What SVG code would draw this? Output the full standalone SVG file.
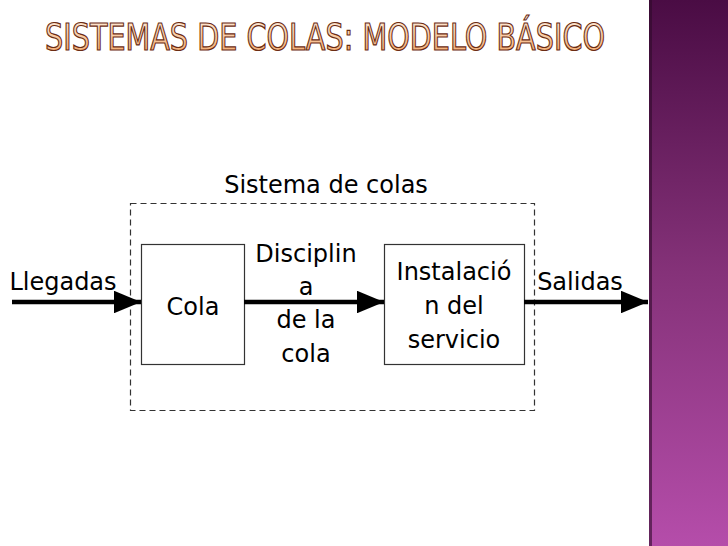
<svg xmlns="http://www.w3.org/2000/svg" width="728" height="546" viewBox="0 0 728 546">
<defs>
<linearGradient id="band" x1="0" y1="0" x2="0" y2="1">
<stop offset="0" stop-color="#4a0c44"/>
<stop offset="0.5" stop-color="#853279"/>
<stop offset="1" stop-color="#b54daa"/>
</linearGradient>
<linearGradient id="title" x1="0" y1="0" x2="0" y2="1">
<stop offset="0" stop-color="#fff3e6"/>
<stop offset="1" stop-color="#f2a05e"/>
</linearGradient>
<marker id="ah" markerWidth="6" markerHeight="5" refX="6" refY="2.5" orient="auto" markerUnits="strokeWidth">
<path d="M0,0 L6,2.5 L0,5 Z" fill="#000"/>
</marker>
</defs>
<style>
.t{font-family:"DejaVu Sans","Liberation Sans",sans-serif;font-size:24px;fill:#000;text-anchor:middle}
.box{fill:#fff;stroke:#333;stroke-width:1.2}
.arr{stroke:#000;stroke-width:4.5;fill:none;marker-end:url(#ah)}
</style>
<rect x="0" y="0" width="728" height="546" fill="#fff"/>
<rect x="649" y="0" width="79" height="546" fill="url(#band)"/>
<rect x="649" y="0" width="3" height="546" fill="#2e0a2a" opacity="0.6"/>
<text x="325" y="50" font-family="DejaVu Sans Condensed, DejaVu Sans, sans-serif" font-stretch="condensed" font-size="38" textLength="560" lengthAdjust="spacingAndGlyphs" text-anchor="middle" fill="url(#title)" stroke="#6b2c12" stroke-width="1.2">SISTEMAS DE COLAS: MODELO BÁSICO</text>
<g id="sistema">
<rect x="130.5" y="203.5" width="404" height="207" fill="none" stroke="#333" stroke-width="1.2" stroke-dasharray="6,4"/>
<text class="t" x="326" y="193">Sistema de colas</text>
</g>
<g id="cola">
<rect class="box" x="141.5" y="244.5" width="103" height="120"/>
<text class="t" x="193" y="315">Cola</text>
</g>
<g id="instalacion">
<rect class="box" x="384.5" y="244.5" width="140" height="120"/>
<text class="t" x="454" y="280">Instalació</text>
<text class="t" x="454" y="314">n del</text>
<text class="t" x="454" y="348">servicio</text>
</g>
<g id="connectors">
<line class="arr" x1="12" y1="302" x2="141" y2="302"/>
<line class="arr" x1="244" y1="302" x2="384" y2="302"/>
<line class="arr" x1="524" y1="302" x2="648" y2="302"/>
<text class="t" x="63" y="290">Llegadas</text>
<text class="t" x="306" y="262">Disciplin</text>
<text class="t" x="306" y="295">a</text>
<text class="t" x="306" y="328">de la</text>
<text class="t" x="306" y="362">cola</text>
<text class="t" x="580" y="290">Salidas</text>
</g>
</svg>
